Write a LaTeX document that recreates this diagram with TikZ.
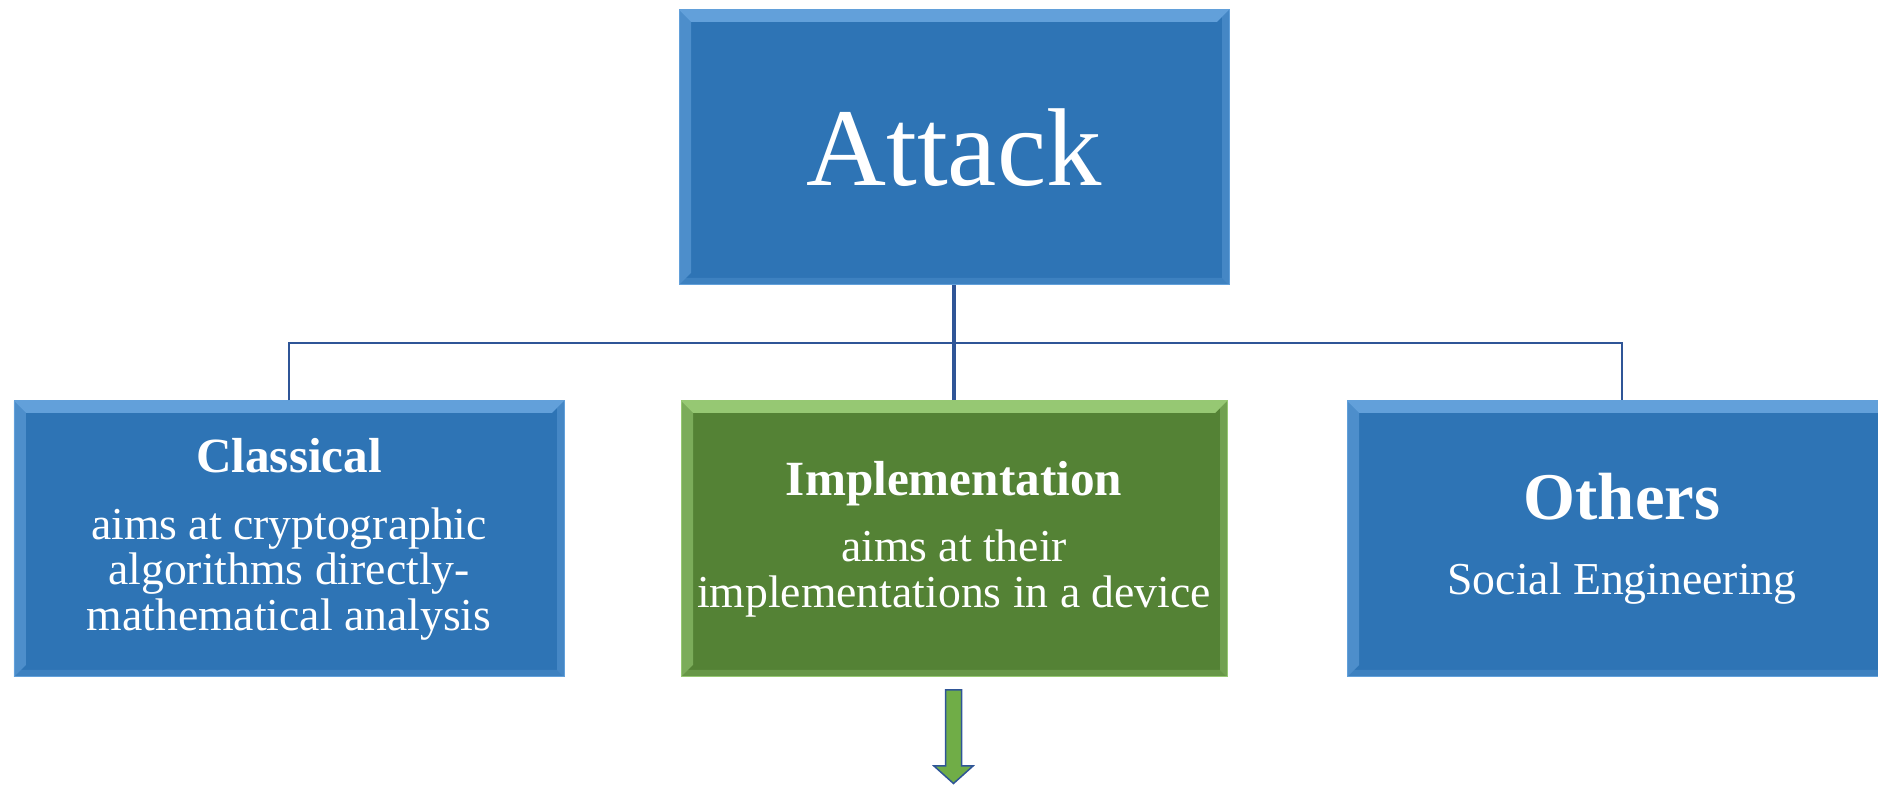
\documentclass[tikz,border=0pt]{standalone}
\usepackage{fontspec}
\setmainfont{Liberation Serif}
\definecolor{boxblue}{RGB}{46,116,181}
\definecolor{boxgreen}{RGB}{84,130,53}
\definecolor{bevelblue}{RGB}{98,160,218}
\definecolor{bevelgreen}{RGB}{150,200,115}
\definecolor{lineblue}{RGB}{47,85,151}
\definecolor{arrowgreen}{RGB}{112,173,71}
\tikzset{bevel/.style={path picture={
  \fill[#1] (path picture bounding box.north west) -- (path picture bounding box.north east)
    -- ([shift={(-0.12,-0.12)}]path picture bounding box.north east)
    -- ([shift={(0.12,-0.12)}]path picture bounding box.north west) -- cycle;
  \fill[#1, opacity=0.6] (path picture bounding box.north west)
    -- ([shift={(0.12,-0.12)}]path picture bounding box.north west)
    -- ([shift={(0.12,0.12)}]path picture bounding box.south west)
    -- (path picture bounding box.south west) -- cycle;
  \fill[#1, opacity=0.45] (path picture bounding box.north east)
    -- ([shift={(-0.07,-0.07)}]path picture bounding box.north east)
    -- ([shift={(-0.07,0.07)}]path picture bounding box.south east)
    -- (path picture bounding box.south east) -- cycle;
  \fill[#1, opacity=0.3] (path picture bounding box.south west)
    -- ([shift={(0.07,0.07)}]path picture bounding box.south west)
    -- ([shift={(-0.07,0.07)}]path picture bounding box.south east)
    -- (path picture bounding box.south east) -- cycle;
}}}

\begin{document}
\begin{tikzpicture}
\tikzstyle{box}=[rectangle, text=white, align=center, inner sep=0pt, line width=0.01cm,
    minimum width=5.5cm, minimum height=2.76cm, font=\fontsize{13}{12.9}\selectfont]
\tikzstyle{bluebox}=[box, draw=bevelblue, fill=boxblue, bevel=bevelblue]
\tikzstyle{greenbox}=[box, draw=bevelgreen, fill=boxgreen, bevel=bevelgreen]
\tikzstyle{thinline}=[draw=lineblue, line width=0.02cm]
\tikzstyle{thickline}=[draw=lineblue, line width=0.045cm]
\tikzstyle{blockarrow}=[draw=lineblue, fill=arrowgreen, line width=0.015cm, line join=miter]
\clip (0,0) rectangle (18.78,7.85);

    \node[bluebox, minimum height=2.75cm,
    font=\fontsize{31.5}{31.5}\selectfont] (A) at (9.54,6.375) {Attack};

    \node[bluebox] (C) at (2.89,2.46) {{\fontsize{14}{14}\selectfont\bfseries Classical}\\[6.3pt]
    aims at cryptographic\\algorithms directly-\\mathematical analysis};
    \node[greenbox, minimum width=5.46cm] (I) at (9.54,2.46) {{\fontsize{14}{14}\selectfont\bfseries Implementation}\\[6pt]
    aims at their\\implementations in a device};
    \node[bluebox] (O) at (16.22,2.46) {{\fontsize{19}{19}\selectfont\bfseries Others}\\[8.4pt]
    Social Engineering};

\coordinate (J) at (9.54,4.42);
\draw[thinline] (C.north) |- (J) -| (O.north);
\draw[thickline] (A) -- (I);

\draw[blockarrow] (9.455,0.95) -- (9.615,0.95) -- (9.615,0.19) -- (9.73,0.19)
    -- (9.535,0.015) -- (9.34,0.19) -- (9.455,0.19) -- cycle;
\end{tikzpicture}
\end{document}
